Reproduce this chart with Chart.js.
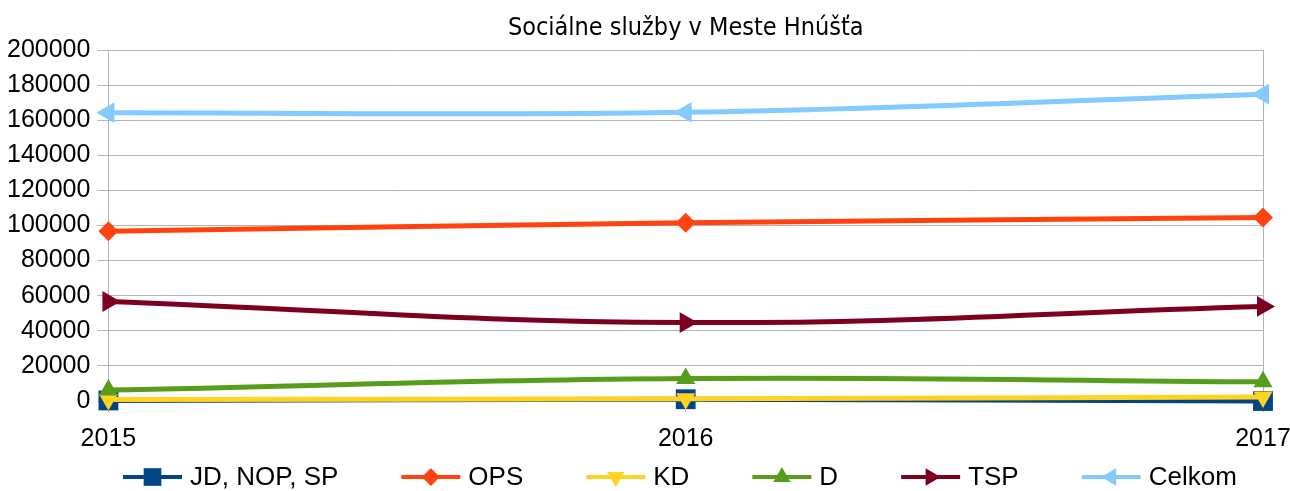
<!DOCTYPE html>
<html><head><meta charset="utf-8">
<script src="https://cdn.jsdelivr.net/npm/chart.js@4/dist/chart.umd.min.js"></script>
<style>html,body{margin:0;padding:0;background:#fff;overflow:hidden}#wrap{width:1290px;height:491px;position:relative}</style>
</head><body><div id="wrap"><canvas id="c"></canvas></div>
<script>
const chartTitle = 'Sociálne služby v Meste Hnúšťa';
const years = ['2015', '2016', '2017'];
const seriesNames = ['JD, NOP, SP', 'OPS', 'KD', 'D', 'TSP', 'Celkom'];
const jdNopSp = [300, 1000, 0];
const ops = [96700, 101600, 104500];
const kd = [800, 1300, 2300];
const dValues = [6200, 12800, 10900];
const tsp = [56700, 44700, 53900];
const celkom = [164300, 164500, 174800];
const yMin = 0, yMax = 200000, yStep = 20000;

const colors = ['#004586', '#ff420e', '#ffd320', '#579d1c', '#7e0021', '#83caff'];
const styles = ['rect', 'rectRot', 'triangle', 'triangle', 'triangle', 'triangle'];
const rotations = [0, 0, 180, 0, 90, 270];
const radii = [14, 10, 11, 11, 12, 12];
const legendRadii = [12.5, 9, 10, 10, 10, 10];
const seriesData = [jdNopSp, ops, kd, dValues, tsp, celkom];

const FONT = '"Liberation Sans", Arial, sans-serif';
const GRID = '#b3b3b3';

const datasets = seriesNames.map((name, i) => ({
  label: name,
  data: seriesData[i],
  borderColor: colors[i],
  backgroundColor: colors[i],
  pointBackgroundColor: colors[i],
  pointBorderColor: colors[i],
  pointBorderWidth: 0,
  pointStyle: styles[i],
  pointRotation: rotations[i],
  pointRadius: radii[i],
  pointHoverRadius: radii[i],
  borderWidth: 5,
  tension: 0.4,
  clip: false,
  order: seriesNames.length - i
}));

const lineLegend = {
  id: 'lineLegend',
  afterDraw(chart) {
    const ctx = chart.ctx;
    ctx.save();
    ctx.font = '26px ' + FONT;
    ctx.textBaseline = 'middle';
    ctx.textAlign = 'left';
    let x = 123;
    const y = 477;
    chart.data.datasets.forEach((ds, i) => {
      ctx.strokeStyle = ds.borderColor;
      ctx.lineWidth = 4;
      ctx.beginPath(); ctx.moveTo(x, y); ctx.lineTo(x + 59, y); ctx.stroke();
      ctx.fillStyle = ds.borderColor;
      Chart.helpers.drawPoint(ctx, {pointStyle: ds.pointStyle, rotation: ds.pointRotation || 0, radius: legendRadii[i], borderWidth: 0}, x + 29.5, y);
      ctx.fillStyle = '#000';
      ctx.fillText(ds.label, x + 67, y + 1);
      x += 67 + ctx.measureText(ds.label).width + 63;
    });
    ctx.restore();
  }
};

new Chart(document.getElementById('c'), {
  type: 'line',
  data: { labels: years, datasets },
  plugins: [lineLegend],
  options: {
    responsive: true,
    maintainAspectRatio: false,
    animation: false,
    devicePixelRatio: 1,
    layout: { padding: { left: 0, right: 0, top: 0, bottom: 25 } },
    plugins: {
      legend: { display: false },
      tooltip: { enabled: false },
      title: {
        display: true, text: chartTitle, color: '#000', fullSize: false,
        font: { family: '"DejaVu Sans Condensed", "DejaVu Sans", sans-serif', size: 25, weight: 'normal' },
        padding: { top: 13, bottom: 7 }
      }
    },
    scales: {
      x: {
        offset: false,
        afterFit: (s) => { s.paddingRight = 27; s.paddingLeft = 0; },
        border: { display: true, color: GRID, width: 1 },
        grid: {
          color: (c) => c.index === 1 ? 'rgba(0,0,0,0)' : GRID,
          tickColor: GRID, tickLength: 11, lineWidth: 1, drawTicks: true
        },
        ticks: { color: '#000', font: { family: FONT, size: 25 }, padding: 12, maxRotation: 0 }
      },
      y: {
        min: yMin, max: yMax,
        border: { display: true, color: GRID, width: 1 },
        grid: { color: GRID, tickColor: GRID, tickLength: 11, lineWidth: 1 },
        ticks: { stepSize: yStep, color: '#000', font: { family: FONT, size: 25 }, padding: 7,
          callback: (v) => String(v) }
      }
    }
  }
});
</script>
</body></html>
